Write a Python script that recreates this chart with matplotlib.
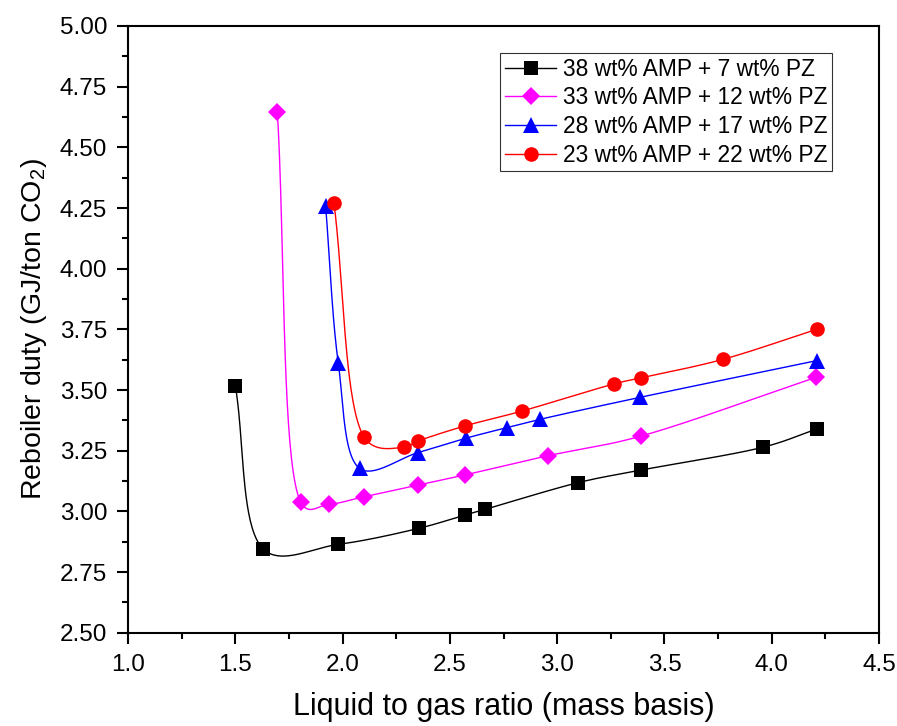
import matplotlib
matplotlib.use("Agg")
import matplotlib.pyplot as plt
import numpy as np

plt.rcParams['font.family'] = ['Liberation Sans', 'DejaVu Sans']
plt.rcParams['mathtext.fontset'] = 'custom'
plt.rcParams['mathtext.rm'] = 'Liberation Sans'
plt.rcParams['mathtext.it'] = 'Liberation Sans'

# Data
lg_amp38 = [1.50, 1.63, 1.98, 2.355, 2.57, 2.663, 3.096, 3.39, 3.958, 4.209]
q_amp38 = [3.518, 2.845, 2.864, 2.930, 2.985, 3.008, 3.118, 3.170, 3.264, 3.339]

lg_amp33 = [1.696, 1.804, 1.936, 2.099, 2.351, 2.57, 2.956, 3.39, 4.206]
q_amp33 = [4.645, 3.040, 3.029, 3.060, 3.108, 3.150, 3.229, 3.310, 3.552]

lg_amp28 = [1.921, 1.98, 2.079, 2.351, 2.573, 2.765, 2.919, 3.387, 4.209]
q_amp28 = [4.258, 3.610, 3.177, 3.242, 3.301, 3.345, 3.379, 3.470, 3.621]

lg_amp23 = [1.960, 2.099, 2.286, 2.352, 2.57, 2.835, 3.264, 3.39, 3.771, 4.209]
q_amp23 = [4.269, 3.308, 3.264, 3.290, 3.352, 3.413, 3.525, 3.550, 3.626, 3.750]

labels = ["38 wt% AMP + 7 wt% PZ", "33 wt% AMP + 12 wt% PZ",
          "28 wt% AMP + 17 wt% PZ", "23 wt% AMP + 22 wt% PZ"]

# pixels per data unit, used only so the curve bends like it does on screen
SX, SY = 214.6, 242.7


def smooth_curve(x, y, alpha=0.35, steps=40):
    # Catmull-Rom spline through the points, in screen units
    p = np.column_stack([np.asarray(x) * SX, np.asarray(y) * SY]).astype(float)
    p = np.vstack([2 * p[0] - p[1], p, 2 * p[-1] - p[-2]])
    t = np.linspace(0, 1, steps)[:, None]
    out = []
    for i in range(1, len(p) - 2):
        p0, p1, p2, p3 = p[i - 1], p[i], p[i + 1], p[i + 2]
        d0 = np.linalg.norm(p1 - p0) ** alpha
        d1 = np.linalg.norm(p2 - p1) ** alpha
        d2 = np.linalg.norm(p3 - p2) ** alpha
        m1 = d1 * ((p1 - p0) / d0 - (p2 - p0) / (d0 + d1) + (p2 - p1) / d1)
        m2 = d1 * ((p2 - p1) / d1 - (p3 - p1) / (d1 + d2) + (p3 - p2) / d2)
        h00 = 2 * t**3 - 3 * t**2 + 1
        h10 = t**3 - 2 * t**2 + t
        h01 = -2 * t**3 + 3 * t**2
        h11 = t**3 - t**2
        out.append(h00 * p1 + h10 * m1 + h01 * p2 + h11 * m2)
    out = np.vstack(out)
    return out[:, 0] / SX, out[:, 1] / SY


fig = plt.figure(figsize=(8.97, 7.26), dpi=100)
ax = fig.add_axes([0.1427, 0.1285, 0.8373, 0.8357])

series = [
    (lg_amp38, q_amp38, 'black', 's', 10),
    (lg_amp33, q_amp33, '#FF00FF', 'D', 9),
    (lg_amp28, q_amp28, '#0000FF', '^', 11),
    (lg_amp23, q_amp23, '#FF0000', 'o', 10.5),
]

handles = []
for (x, y, col, mk, ms), lab in zip(series, labels):
    xs, ys = smooth_curve(x, y)
    ln, = ax.plot(xs, ys, color=col, lw=1.0, zorder=2)
    pts, = ax.plot(x, y, ls='none', marker=mk, ms=ms, color=col,
                   markeredgewidth=0, zorder=3)
    handles.append((ln, pts))

ax.set_xlim(1.0, 4.5)
ax.set_ylim(2.5, 5.0)
ax.set_xticks(np.arange(1.0, 4.51, 0.5))
ax.set_yticks(np.arange(2.5, 5.01, 0.25))
ax.set_xticks(np.arange(1.25, 4.5, 0.5), minor=True)
ax.set_yticks(np.arange(2.625, 5.0, 0.25), minor=True)
ax.set_xticklabels([f"{v:.1f}" for v in np.arange(1.0, 4.51, 0.5)])
ax.set_yticklabels([f"{v:.2f}" for v in np.arange(2.5, 5.01, 0.25)])
ax.tick_params(which='major', direction='out', length=8, width=1.5,
               labelsize=17.5, pad=7, top=False, right=False)
ax.tick_params(which='minor', direction='out', length=4.5, width=1.5,
               top=False, right=False)
for s in ax.spines.values():
    s.set_linewidth(1.5)

ax.set_xlabel("Liquid to gas ratio (mass basis)", fontsize=22, labelpad=12)
ax.set_ylabel("Reboiler duty (GJ/ton CO$_2$)", fontsize=20.5, labelpad=8)

leg = ax.legend(handles, labels, loc='upper right',
                bbox_to_anchor=(0.9374, 0.9555), borderaxespad=0,
                fontsize=16.4, frameon=True, fancybox=False, edgecolor='black',
                handlelength=2.24, handletextpad=0.3, labelspacing=0.25,
                borderpad=0.2)
leg.get_frame().set_linewidth(0.8)

fig.savefig("out.png", dpi=100)
